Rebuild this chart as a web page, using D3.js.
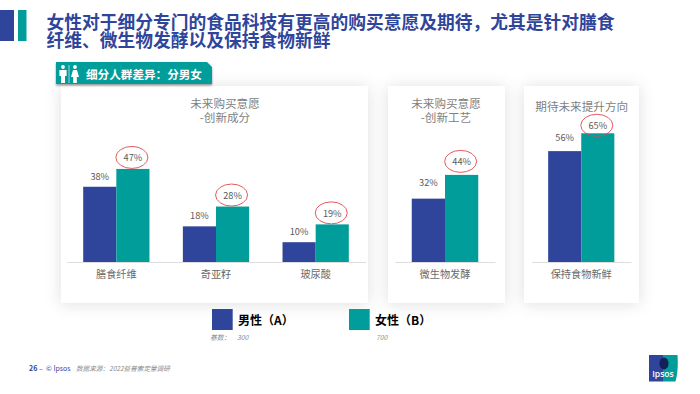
<!DOCTYPE html>
<html><head><meta charset="utf-8">
<script src="https://cdn.jsdelivr.net/npm/d3@7"></script>
<style>
html,body{margin:0;padding:0;background:#fff;}
svg{display:block;}
text{font-family:"Noto Sans CJK SC","Noto Sans",sans-serif;}
</style></head><body>
<svg id="c" width="700" height="394"></svg>
<script>
const titleLines = ["女性对于细分专门的食品科技有更高的购买意愿及期待，尤其是针对膳食","纤维、微生物发酵以及保持食物新鲜"];
const tabLabel = "细分人群差异：分男女";
const seriesNames = ["男性（A）","女性（B）"];
const seriesBases = ["300","700"];
const catsIngredient = ["膳食纤维","奇亚籽","玻尿酸"];
const maleIngredient = [38,18,10];
const femaleIngredient = [47,28,19];
const catsProcess = ["微生物发酵"];
const maleProcess = [32];
const femaleProcess = [44];
const catsFuture = ["保持食物新鲜"];
const maleFuture = [56];
const femaleFuture = [65];

const BLUE="#2f459b", TEAL="#009d9a", RED="#e0474c";
const svg=d3.select("#c");
const defs=svg.append("defs");
const sh=defs.append("filter").attr("id","sh").attr("x","-20%").attr("y","-20%").attr("width","140%").attr("height","140%");
sh.append("feDropShadow").attr("dx",0).attr("dy",1).attr("stdDeviation",8).attr("flood-color","#000").attr("flood-opacity",0.13);
const sh2=defs.append("filter").attr("id","sh2").attr("x","-5%").attr("y","-20%").attr("width","110%").attr("height","150%");
sh2.append("feDropShadow").attr("dx",0).attr("dy",1.5).attr("stdDeviation",0.8).attr("flood-color","#000").attr("flood-opacity",0.4);

// header marks
svg.append("rect").attr("x",0).attr("y",10).attr("width",14).attr("height",31).attr("fill",BLUE);
svg.append("rect").attr("x",18).attr("y",10).attr("width",8.5).attr("height",31).attr("fill",TEAL);
svg.selectAll(".t").data(titleLines).join("text").attr("x",46.5).attr("y",(d,i)=>28.7+i*18.6)
  .attr("font-size",17.75).attr("font-weight",700).attr("fill",BLUE).text(d=>d);

const y=d3.scaleLinear().domain([0,100]).range([262,64]);
const panels=[
 {box:[61,86,307,217],axis:[66.5,365.5],titles:["未来购买意愿","-创新成分"],tx:225,ty:[108,122],cats:catsIngredient,m:maleIngredient,f:femaleIngredient,lift:[10.5,11]},
 {box:[388,86,117,217],axis:[395,495],titles:["未来购买意愿","-创新工艺"],tx:446,ty:[108,122],cats:catsProcess,m:maleProcess,f:femaleProcess,lift:[16,13]},
 {box:[524,86,115,217],axis:[531.5,631],titles:["期待未来提升方向"],tx:581.7,ty:[111],cats:catsFuture,m:maleFuture,f:femaleFuture,lift:[14,7.5]}
];
panels.forEach(p=>{
  svg.append("rect").attr("x",p.box[0]).attr("y",p.box[1]).attr("width",p.box[2]).attr("height",p.box[3]).attr("fill","#fff").attr("filter","url(#sh)");
});
panels.forEach(p=>{
  p.titles.forEach((t,i)=>svg.append("text").attr("x",p.tx).attr("y",p.ty[i]).attr("text-anchor","middle").attr("font-size",11.6).attr("fill","#7f7f7f").text(t));
  const x0=d3.scaleBand().domain(p.cats).range(p.axis).paddingInner(0.335).paddingOuter(0.1675);
  const x1=d3.scaleBand().domain([0,1]).range([0,x0.bandwidth()]);
  const g=svg.append("g");
  p.cats.forEach((c,i)=>{
    [p.m[i],p.f[i]].forEach((v,s)=>{
      const bx=x0(c)+x1(s);
      g.append("rect").attr("x",bx).attr("y",y(v)).attr("width",x1.bandwidth()).attr("height",y(0)-y(v)).attr("fill",s?TEAL:BLUE);
      const cx=bx+x1.bandwidth()/2, ly=y(v)-p.lift[s];
      g.append("text").attr("x",cx).attr("y",ly+3.4).attr("text-anchor","middle").attr("font-size",9.2).attr("fill","#595959").text(v+"%");
      if(s===1) g.append("ellipse").attr("cx",cx-1).attr("cy",ly-0.5).attr("rx",16).attr("ry",11).attr("fill","none").attr("stroke",RED).attr("stroke-width",0.9);
    });
  });
  const ax=svg.append("g").attr("transform",`translate(0,${y(0)})`).call(d3.axisBottom(x0).tickSize(0).tickPadding(9));
  ax.select(".domain").attr("stroke","#dedede").attr("stroke-width",1);
  ax.selectAll("text").attr("font-size",10.2).attr("fill","#6a6a6a").attr("font-family",'"Noto Sans CJK SC",sans-serif');
});

// tab
svg.append("path").attr("d","M56 62H207L212 67V84H56Z").attr("fill",TEAL).attr("filter","url(#sh2)");
svg.append("text").attr("x",86).attr("y",79).attr("font-size",11.6).attr("font-weight",700).attr("fill","#fff").text(tabLabel);
function person(g,cx,female){
  g.append("circle").attr("cx",cx).attr("cy",67).attr("r",1.9).attr("fill","#fff");
  if(female) g.append("path").attr("d",`M${cx-2} 70H${cx+2}L${cx+4} 77H${cx+1.8}V83H${cx-1.8}V77H${cx-4}Z`).attr("fill","#fff");
  else g.append("path").attr("d",`M${cx-3.6} 70H${cx+3.6}V76H${cx+2}V83H${cx-2}V76H${cx-3.6}Z`).attr("fill","#fff");
}
const icons=svg.append("g");
person(icons,63,false);person(icons,75,true);
icons.append("line").attr("x1",69).attr("x2",69).attr("y1",65).attr("y2",83).attr("stroke","#fff").attr("stroke-width",0.6);

// legend
const legX=[212,349], legT=[238,375], baseT=[237,376];
seriesNames.forEach((n,i)=>{
  svg.append("rect").attr("x",legX[i]).attr("y",309).attr("width",20.7).attr("height",21).attr("fill",i?TEAL:BLUE);
  svg.append("text").attr("x",legT[i]).attr("y",325).attr("font-size",12).attr("font-weight",700).attr("fill","#000").text(n);
  svg.append("text").attr("x",baseT[i]).attr("y",339.5).attr("font-size",6.8).attr("font-style","italic").attr("fill","#8a8a8a").text(seriesBases[i]);
});
svg.append("text").attr("x",210).attr("y",339.5).attr("font-size",6.8).attr("font-style","italic").attr("fill","#8a8a8a").text("基数：");

// footer
svg.append("text").attr("x",29).attr("y",371).attr("font-size",7).attr("font-weight",700).attr("fill",BLUE).text("26");
svg.append("text").attr("x",39).attr("y",371).attr("font-size",7).attr("fill",BLUE).text("‒");
svg.append("text").attr("x",46).attr("y",371).attr("font-size",7).attr("fill",BLUE).text("© Ipsos");
svg.append("text").attr("x",76).attr("y",371).attr("font-size",6.6).attr("font-style","italic").attr("fill","#8a8a8a").text("数据来源：2022益普索定量调研");

// logo
svg.append("rect").attr("x",649).attr("y",355).attr("width",14).attr("height",26.5).attr("fill",BLUE);
svg.append("path").attr("d","M663 355H677.5C678 364 678 372 675.5 381.5H663Z").attr("fill",TEAL);
svg.append("ellipse").attr("cx",664).attr("cy",363.5).attr("rx",4.6).attr("ry",6).attr("fill","#14205a");
svg.append("text").attr("x",663).attr("y",377).attr("text-anchor","middle").attr("font-size",8.6).attr("font-weight",600).attr("fill","#fff").style("font-family",'"Open Sans",sans-serif').text("Ipsos");
</script>
</body></html>
